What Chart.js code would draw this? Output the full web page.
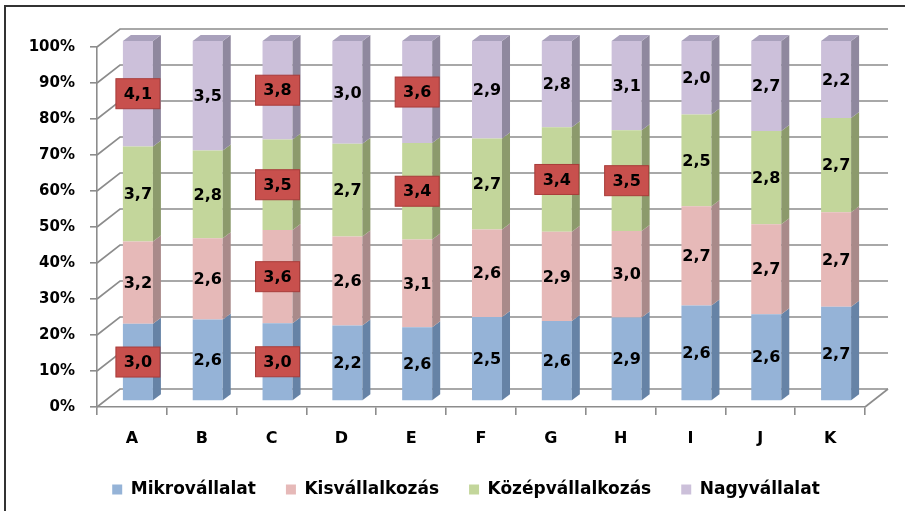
<!DOCTYPE html>
<html>
<head>
<meta charset="utf-8">
<script src="https://cdn.jsdelivr.net/npm/chart.js@4.4.0/dist/chart.umd.min.js"></script>
<style>
  html, body { margin: 0; background: #fff; }
</style>
</head>
<body>
<canvas id="chart" width="905" height="511"></canvas>
<script>
const categories = ['A', 'B', 'C', 'D', 'E', 'F', 'G', 'H', 'I', 'J', 'K'];

// átlagpontszámok méretkategóriánként
const mikro = [3.0, 2.6, 3.0, 2.2, 2.6, 2.5, 2.6, 2.9, 2.6, 2.6, 2.7];
const kis   = [3.2, 2.6, 3.6, 2.6, 3.1, 2.6, 2.9, 3.0, 2.7, 2.7, 2.7];
const kozep = [3.7, 2.8, 3.5, 2.7, 3.4, 2.7, 3.4, 3.5, 2.5, 2.8, 2.7];
const nagy  = [4.1, 3.5, 3.8, 3.0, 3.6, 2.9, 2.8, 3.1, 2.0, 2.7, 2.2];

// piros dobozzal kiemelt cellák (kategória indexek)
const kiemeltMikro = [0, 2];
const kiemeltKis   = [2];
const kiemeltKozep = [2, 4, 6, 7];
const kiemeltNagy  = [0, 2, 4];

const yTicks = [0, 10, 20, 30, 40, 50, 60, 70, 80, 90, 100];

const totals = categories.map((c, i) => mikro[i] + kis[i] + kozep[i] + nagy[i]);
const share = arr => arr.map((v, i) => v / totals[i] * 100);

const FONT = '"DejaVu Sans", sans-serif';
const GRID = '#8c8c8c';
const DEPTH_X = 23, DEPTH_Y = -18;   // hátsó fal eltolása
const BAR_X = 6, BAR_Y = -6;         // oszlopok eltolása a mélységben
const SIDE_X = 8, SIDE_Y = -6;       // oszlop oldallap

const series = [
  { label: 'Mikrovállalat',    values: mikro, hl: kiemeltMikro, front: '#95b3d7', side: '#6683a6', top: '#b0c8e6' },
  { label: 'Kisvállalkozás',   values: kis,   hl: kiemeltKis,   front: '#e6b9b8', side: '#a98a8a', top: '#efcfce' },
  { label: 'Középvállalkozás', values: kozep, hl: kiemeltKozep, front: '#c3d69b', side: '#8c9a6c', top: '#d4e3b5' },
  { label: 'Nagyvállalat',     values: nagy,  hl: kiemeltNagy,  front: '#ccc0da', side: '#8f889e', top: '#a9a1bc' }
];

const depthPlugin = {
  id: 'depth3d',
  afterLayout(chart) {
    // jelmagyarázat kicsit jobbra tolva
    chart.legend.left += 59;
  },
  beforeDraw(chart) {
    const { ctx, chartArea: a, scales: { y } } = chart;
    ctx.save();
    // keret
    ctx.strokeStyle = '#333';
    ctx.lineWidth = 2;
    ctx.beginPath();
    ctx.moveTo(5, 511);
    ctx.lineTo(5, 6);
    ctx.lineTo(905, 6);
    ctx.stroke();

    // hátsó fal rácsvonalai + bal oldalfal átlói
    ctx.strokeStyle = GRID;
    ctx.lineWidth = 1.6;
    yTicks.forEach(t => {
      const py = y.getPixelForValue(t);
      ctx.beginPath();
      ctx.moveTo(a.left, py);
      ctx.lineTo(a.left + DEPTH_X, py + DEPTH_Y);
      ctx.lineTo(a.right + DEPTH_X, py + DEPTH_Y);
      ctx.stroke();
    });
    // padló jobb széle
    ctx.beginPath();
    ctx.moveTo(a.right, a.bottom);
    ctx.lineTo(a.right + DEPTH_X, a.bottom + DEPTH_Y);
    ctx.stroke();
    ctx.restore();
  },
  beforeDatasetsDraw(chart) {
    chart.ctx.save();
    chart.ctx.translate(BAR_X, BAR_Y);
  },
  afterDatasetsDraw(chart) {
    const ctx = chart.ctx;
    const last = chart.data.datasets.length - 1;
    chart.data.datasets.forEach((ds, di) => {
      chart.getDatasetMeta(di).data.forEach(bar => {
        const r = bar.x + bar.width / 2;
        const l = bar.x - bar.width / 2;
        ctx.fillStyle = ds.sideColor;
        ctx.beginPath();
        ctx.moveTo(r, bar.y);
        ctx.lineTo(r + SIDE_X, bar.y + SIDE_Y);
        ctx.lineTo(r + SIDE_X, bar.base + SIDE_Y);
        ctx.lineTo(r, bar.base);
        ctx.closePath();
        ctx.fill();
        if (di === last) {
          ctx.fillStyle = ds.topColor;
          ctx.beginPath();
          ctx.moveTo(l, bar.y);
          ctx.lineTo(r, bar.y);
          ctx.lineTo(r + SIDE_X, bar.y + SIDE_Y);
          ctx.lineTo(l + SIDE_X, bar.y + SIDE_Y);
          ctx.closePath();
          ctx.fill();
        }
      });
    });

    // értékcímkék
    ctx.font = 'bold 16px ' + FONT;
    ctx.textAlign = 'center';
    ctx.textBaseline = 'middle';
    chart.data.datasets.forEach((ds, di) => {
      chart.getDatasetMeta(di).data.forEach((bar, i) => {
        const cx = bar.x;
        const cy = (bar.y + bar.base) / 2;
        const txt = ds.rawValues[i].toFixed(1).replace('.', ',');
        if (ds.highlight.includes(i)) {
          ctx.fillStyle = '#c8504d';
          ctx.strokeStyle = '#a83c3a';
          ctx.lineWidth = 1;
          ctx.fillRect(cx - 22, cy - 15, 44, 30);
          ctx.strokeRect(cx - 22, cy - 15, 44, 30);
        }
        ctx.fillStyle = '#000';
        ctx.fillText(txt, cx, cy + 1);
      });
    });
    ctx.restore();
  }
};

new Chart(document.getElementById('chart'), {
  type: 'bar',
  data: {
    labels: categories,
    datasets: series.map(s => ({
      label: s.label,
      data: share(s.values),
      rawValues: s.values,
      highlight: s.hl,
      backgroundColor: s.front,
      sideColor: s.side,
      topColor: s.top,
      borderWidth: 0,
      barPercentage: 1,
      categoryPercentage: 0.43,
      clip: false
    }))
  },
  options: {
    responsive: false,
    animation: false,
    layout: { padding: { top: 47, left: 8, right: 40, bottom: 3 } },
    scales: {
      x: {
        stacked: true,
        grid: { drawOnChartArea: false, offset: true, tickLength: 8, color: GRID, lineWidth: 1.6 },
        border: { color: GRID, width: 1.6 },
        ticks: { padding: 14, color: '#000', font: { family: FONT, size: 16, weight: 'bold' } },
        afterFit: s => { s.height = 44; }
      },
      y: {
        stacked: true,
        min: 0,
        max: 100,
        grid: { drawOnChartArea: false, tickLength: 7, color: GRID, lineWidth: 1.6 },
        border: { color: GRID, width: 1.6 },
        afterBuildTicks: s => { s.ticks = yTicks.map(v => ({ value: v })); },
        ticks: {
          padding: 15,
          color: '#000',
          font: { family: FONT, size: 15, weight: 'bold' },
          callback: v => v + '%'
        },
        afterFit: s => { s.width = 89; }
      }
    },
    plugins: {
      tooltip: { enabled: false },
      legend: {
        position: 'bottom',
        maxHeight: 60,
        labels: {
          boxWidth: 10,
          boxHeight: 10,
          padding: 30,
          color: '#000',
          font: { family: FONT, size: 17, weight: 'bold' }
        }
      }
    }
  },
  plugins: [depthPlugin]
});
</script>
</body>
</html>
